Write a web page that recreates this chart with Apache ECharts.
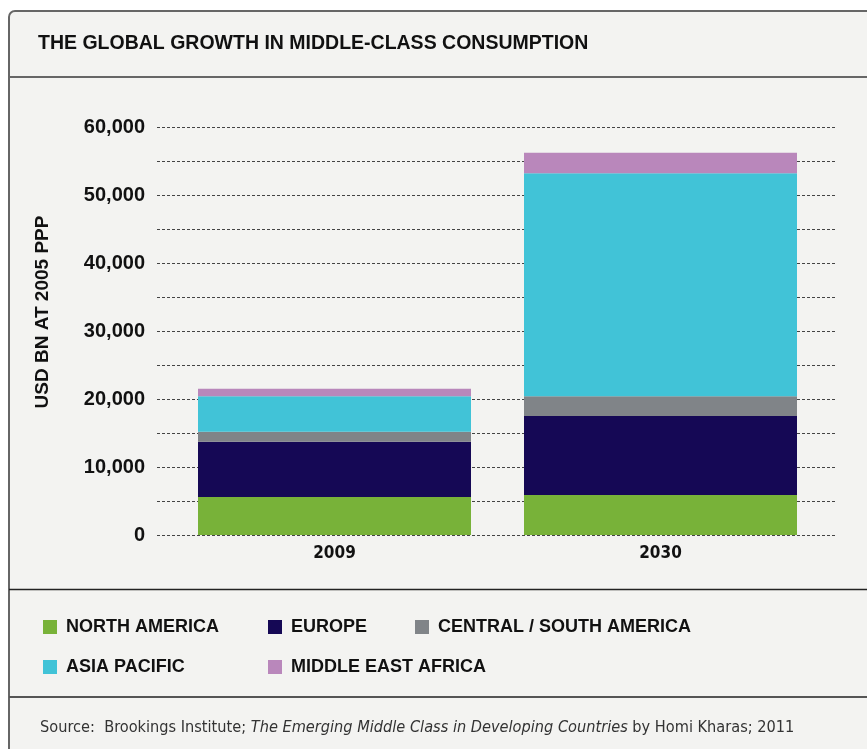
<!DOCTYPE html>
<html>
<head>
<meta charset="utf-8">
<script src="https://cdn.jsdelivr.net/npm/echarts@6/dist/echarts.min.js"></script>
<style>
  html, body { margin: 0; padding: 0; background: #ffffff; }
  #chart { width: 867px; height: 749px; }
</style>
</head>
<body>
<div id="chart"></div>
<script>
// Middle-class consumption by region, USD bn at 2005 PPP
const years = ['2009', '2030'];
const northAmerica = [5600, 5900];
const europe = [8100, 11600];
const centralSouthAmerica = [1500, 2900];
const asiaPacific = [5200, 32800];
const middleEastAfrica = [1100, 3000];

const seriesNames = ['NORTH AMERICA', 'EUROPE', 'CENTRAL / SOUTH AMERICA', 'ASIA PACIFIC', 'MIDDLE EAST AFRICA'];
const seriesColors = ['#78b239', '#150855', '#808488', '#41c3d7', '#b987bb'];
const seriesValues = [northAmerica, europe, centralSouthAmerica, asiaPacific, middleEastAfrica];

const yTicks = [0, 10000, 20000, 30000, 40000, 50000, 60000];

const BOLD = "'Liberation Sans', Arial, sans-serif";
const NARROW = "'DejaVu Sans Condensed', 'DejaVu Sans', sans-serif";

const chart = echarts.init(document.getElementById('chart'), null, { renderer: 'canvas' });

const legendText = {
  color: '#111', fontFamily: BOLD, fontWeight: 'bold', fontSize: 18,
  padding: [0, 0, 0, 4]
};
function legendAt(left, names) {
  return {
    orient: 'vertical', left: left, top: 618, padding: 0, itemWidth: 14, itemHeight: 14,
    itemGap: 22, icon: 'rect', selectedMode: false, data: names, textStyle: legendText
  };
}

const option = {
  animation: false,
  backgroundColor: '#ffffff',
  graphic: [
    { type: 'rect', z: -10, shape: { x: 9, y: 11, width: 900, height: 800, r: [6, 0, 0, 0] },
      style: { fill: '#f3f3f1', stroke: '#666', lineWidth: 2 } },
    { type: 'line', z: -9, shape: { x1: 9, y1: 77, x2: 867, y2: 77 }, style: { stroke: '#666', lineWidth: 2 } },
    { type: 'line', z: -9, shape: { x1: 9, y1: 589.5, x2: 867, y2: 589.5 }, style: { stroke: '#222', lineWidth: 1.5 } },
    { type: 'line', z: -9, shape: { x1: 9, y1: 697, x2: 867, y2: 697 }, style: { stroke: '#555', lineWidth: 2 } },
    { type: 'text', left: 38, top: 34,
      style: { text: 'THE GLOBAL GROWTH IN MIDDLE-CLASS CONSUMPTION', fill: '#111',
               font: "bold 19.5px 'Liberation Sans', Arial, sans-serif" } },
    { type: 'text', x: 43, y: 312, rotation: Math.PI / 2,
      style: { text: 'USD BN AT 2005 PPP', fill: '#111', align: 'center', verticalAlign: 'middle',
               font: "bold 19px 'Liberation Sans', Arial, sans-serif" } },
    { type: 'text', left: 40, top: 720,
      style: {
        text: '{r|Source:  Brookings Institute; }{i|The Emerging Middle Class in Developing Countries}{r| by Homi Kharas; 2011}',
        rich: {
          r: { fontFamily: NARROW, fontSize: 16.2, fill: '#333' },
          i: { fontFamily: NARROW, fontSize: 16.2, fontStyle: 'italic', fill: '#333' }
        }
      } }
  ],
  legend: [
    legendAt(43, ['NORTH AMERICA', 'ASIA PACIFIC']),
    legendAt(268, ['EUROPE', 'MIDDLE EAST AFRICA']),
    legendAt(415, ['CENTRAL / SOUTH AMERICA'])
  ],
  grid: [
    { left: 157, right: 32, top: 127, bottom: 214 },
    { left: 171.5, right: 43.5, top: 127, bottom: 214 }
  ],
  xAxis: [
    { gridIndex: 0, type: 'value', min: 0, max: 1, show: false },
    { gridIndex: 1, type: 'category', data: years,
      axisLine: { show: false }, axisTick: { show: false },
      axisLabel: { margin: 10, color: '#111', fontFamily: NARROW, fontWeight: 'bold', fontSize: 17 } }
  ],
  yAxis: [
    { gridIndex: 0, type: 'value', min: 0, max: 60000, interval: 5000,
      axisLine: { show: false }, axisTick: { show: false },
      axisLabel: { margin: 12, color: '#111', fontFamily: BOLD, fontWeight: 'bold', fontSize: 20,
        formatter: v => yTicks.indexOf(v) >= 0 ? v.toLocaleString('en-US') : '' },
      splitLine: { show: true, lineStyle: { color: '#444', width: 1, type: [3, 2] } } },
    { gridIndex: 1, type: 'value', min: 0, max: 60000, show: false, splitLine: { show: false } }
  ],
  series: seriesNames.map((name, i) => ({
    name: name, type: 'bar', stack: 'total', xAxisIndex: 1, yAxisIndex: 1,
    barWidth: 273, data: seriesValues[i], itemStyle: { color: seriesColors[i] },
    emphasis: { disabled: true }
  }))
};

chart.setOption(option);
</script>
</body>
</html>
